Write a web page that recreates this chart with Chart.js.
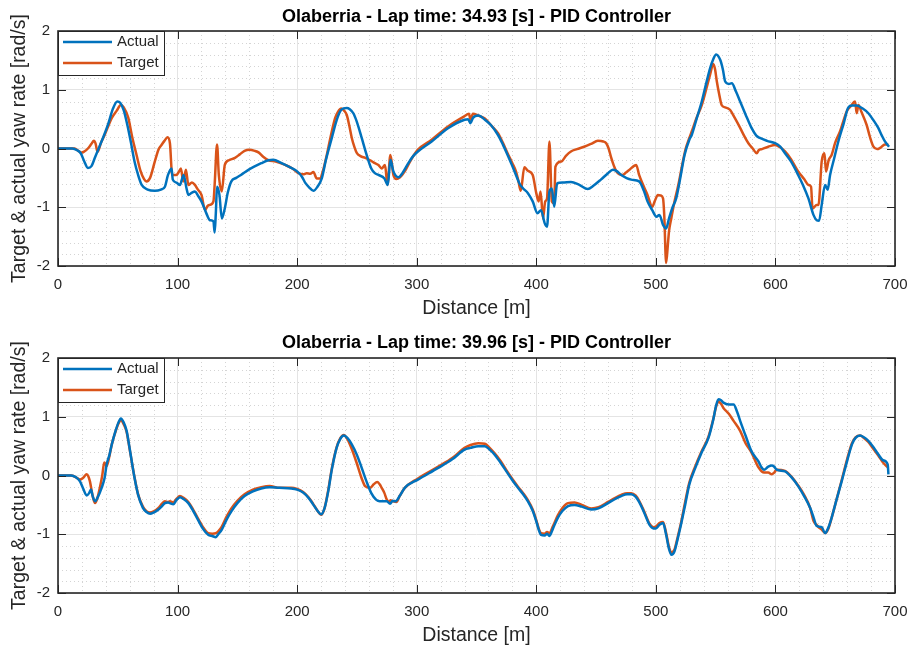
<!DOCTYPE html>
<html lang="en">
<head>
    <meta charset="UTF-8">
    <title>Olaberria - Yaw rate tracking</title>
    <script src="https://cdn.jsdelivr.net/npm/chart.js"></script>
    <style>
        body {
            margin: 0;
            background-color: #ffffff;
            width: 909px;
            height: 648px;
            overflow: hidden;
        }

        .panel {
            position: absolute;
            left: 0;
            width: 909px;
            height: 324px;
        }
    </style>
</head>
<body>
    <div class="panel" style="top: 0;"><canvas id="lapFast" width="909" height="324"></canvas></div>
    <div class="panel" style="top: 324px;"><canvas id="lapSlow" width="909" height="324"></canvas></div>

    <script>
        // axis ticks
        const distTicks = [0, 100, 200, 300, 400, 500, 600, 700];
        const yawTicks = [-2, -1, 0, 1, 2];

        // Lap 1 (34.93 s) - actual yaw rate
        const distActual1 = [0, 12, 16, 19, 22, 25, 28, 31, 34, 38, 42, 46, 49.6, 52, 55, 58, 61, 64, 67, 70, 75, 81, 86, 89.4, 92, 95, 96, 99, 102, 104, 105, 107.5, 109, 112, 114.5, 117, 120, 124, 127, 130, 131, 132, 133, 135, 137, 139.5, 142, 145, 149, 153, 158, 164, 170, 176, 180, 187, 195, 200, 204, 207, 210, 213.6, 217, 220.6, 224, 229, 233, 237, 241.5, 244, 247, 250, 254, 258, 262, 265, 268, 273, 275.8, 278, 280.5, 284.7, 288, 293, 297, 301, 312.5, 326.5, 340, 343, 345, 347, 351.5, 357, 362, 368, 372, 376, 380, 383, 386, 389, 393, 397, 401, 404, 407, 409, 411, 413, 415, 417.5, 422, 429, 436, 443, 448, 454, 460, 464, 467, 471, 479.4, 486, 490, 493, 497, 500.5, 503, 506, 508.6, 511, 514, 517, 520, 524, 528, 530, 534, 538.4, 542, 545.4, 548, 550.4, 553.8, 556, 558, 561, 563.5, 567, 570.5, 575, 580, 584, 587, 593, 599.7, 604, 608, 613, 619, 623, 627.6, 631.8, 634.5, 636.5, 638.7, 641.5, 643.7, 645.7, 649, 652.6, 657, 661, 664, 668, 673, 677.7, 682, 686, 689, 691.6, 695];
        const yawActual1 = [0, 0, -0.03, -0.08, -0.22, -0.33, -0.30, -0.15, 0.0, 0.2, 0.42, 0.68, 0.80, 0.78, 0.65, 0.40, 0.10, -0.22, -0.45, -0.62, -0.70, -0.72, -0.70, -0.65, -0.45, -0.34, -0.53, -0.58, -0.62, -0.50, -0.45, -0.68, -0.79, -0.75, -0.73, -0.80, -0.90, -1.10, -1.22, -1.24, -1.43, -1.10, -0.65, -0.79, -1.19, -1.02, -0.75, -0.56, -0.50, -0.45, -0.38, -0.31, -0.25, -0.20, -0.19, -0.25, -0.33, -0.39, -0.48, -0.59, -0.66, -0.72, -0.65, -0.51, -0.20, 0.18, 0.48, 0.66, 0.69, 0.67, 0.60, 0.45, 0.18, -0.10, -0.34, -0.42, -0.45, -0.51, -0.62, -0.19, -0.39, -0.49, -0.42, -0.25, -0.13, -0.05, 0.12, 0.35, 0.49, 0.50, 0.43, 0.52, 0.56, 0.49, 0.40, 0.23, 0.07, -0.11, -0.30, -0.45, -0.60, -0.68, -0.76, -0.90, -1.10, -1.05, -1.27, -1.33, -0.73, -0.68, -0.99, -0.59, -0.58, -0.57, -0.62, -0.69, -0.63, -0.53, -0.42, -0.36, -0.38, -0.45, -0.53, -0.56, -0.72, -0.90, -1.05, -1.16, -1.13, -1.30, -1.36, -1.19, -1.00, -0.85, -0.55, -0.11, 0.15, 0.23, 0.50, 0.80, 1.10, 1.37, 1.52, 1.60, 1.51, 1.35, 1.14, 1.10, 1.11, 0.97, 0.80, 0.58, 0.35, 0.22, 0.18, 0.13, 0.09, 0.03, -0.08, -0.22, -0.45, -0.62, -0.85, -1.13, -1.22, -1.23, -0.96, -0.62, -0.70, -0.45, -0.18, 0.12, 0.42, 0.70, 0.73, 0.73, 0.68, 0.60, 0.48, 0.35, 0.22, 0.12, 0.03];

        // Lap 1 (34.93 s) - target yaw rate
        const distTarget1 = [0, 14, 17, 19.8, 22, 25, 28, 30, 31.5, 33, 36, 39, 42, 45, 49, 52.6, 55, 58.8, 62, 65.7, 69, 72, 74, 77, 81, 84, 86.6, 89, 91.6, 93.6, 95.5, 99, 101, 102.8, 104.7, 107, 109, 112, 114.5, 117, 120, 123, 125, 127, 130, 131, 133, 134.5, 137, 139.5, 143, 148, 152, 156, 160, 164.6, 168, 171.6, 176, 182, 190, 196, 201, 205, 208, 211, 213.6, 216.4, 219, 222, 224.8, 228, 231.8, 234, 237, 239.5, 241.5, 243.5, 245.7, 248, 250, 253, 257, 261, 265, 268, 270.7, 273.5, 275.5, 278, 280.5, 283, 286, 290, 295, 301, 312.5, 326.5, 340, 343.7, 345, 347, 351.5, 357, 362, 368, 372, 376, 380, 383, 385, 387, 390, 393, 397, 400, 402, 403.6, 405.6, 407.5, 409, 411, 413, 415, 416, 421, 425, 429, 434, 440, 446, 451.5, 456, 458.5, 460.5, 462.7, 465, 467, 472, 475, 478, 483.6, 486, 490, 493, 497, 499, 501.7, 504, 506, 507, 508.6, 510, 511, 513, 515, 519, 522.6, 525, 528, 530, 534, 538.4, 542, 545.4, 548, 549.5, 551, 553, 555, 558, 562, 566, 570.5, 574, 577.4, 581, 584.4, 586, 588.6, 594, 599.7, 604, 608, 613, 619, 624, 627.6, 629.8, 631, 634.5, 636, 638.7, 641, 642.3, 644.5, 647, 650, 654, 657, 659.6, 663, 666.6, 668, 669.4, 672, 676.3, 679, 682, 685, 687.5, 691.6, 694.4];
        const yawTarget1 = [0, 0, -0.04, -0.07, -0.05, 0.0, 0.08, 0.13, 0.08, -0.06, 0.10, 0.23, 0.38, 0.52, 0.64, 0.74, 0.70, 0.52, 0.20, -0.11, -0.38, -0.52, -0.56, -0.50, -0.22, -0.02, 0.06, 0.13, 0.19, 0.09, -0.45, -0.45, -0.40, -0.34, -0.56, -0.36, -0.62, -0.58, -0.62, -0.70, -0.79, -1.05, -0.98, -0.96, -0.90, -0.62, 0.07, -0.45, -0.73, -0.28, -0.20, -0.16, -0.10, -0.04, -0.02, -0.04, -0.07, -0.14, -0.20, -0.22, -0.28, -0.34, -0.42, -0.44, -0.42, -0.43, -0.40, -0.51, -0.51, -0.35, -0.11, 0.20, 0.52, 0.62, 0.68, 0.64, 0.57, 0.40, 0.18, 0.02, -0.08, -0.13, -0.16, -0.20, -0.25, -0.28, -0.34, -0.28, -0.62, -0.11, -0.45, -0.52, -0.49, -0.39, -0.20, -0.02, 0.15, 0.38, 0.55, 0.59, 0.49, 0.59, 0.56, 0.51, 0.40, 0.26, 0.10, -0.08, -0.25, -0.39, -0.55, -0.72, -0.32, -0.38, -0.45, -0.76, -0.90, -0.73, -1.19, -0.90, -0.85, 0.12, -0.90, -0.93, -0.31, -0.22, -0.12, -0.05, -0.01, 0.03, 0.08, 0.13, 0.12, 0.09, 0.0, -0.16, -0.30, -0.39, -0.45, -0.41, -0.36, -0.28, -0.45, -0.65, -0.79, -0.99, -0.90, -0.79, -0.80, -0.85, -1.13, -1.95, -1.65, -1.41, -1.18, -0.96, -0.60, -0.22, 0.0, 0.18, 0.29, 0.52, 0.74, 1.0, 1.26, 1.44, 1.35, 1.14, 0.92, 0.74, 0.70, 0.66, 0.52, 0.35, 0.21, 0.09, 0.0, -0.08, -0.03, -0.01, 0.03, 0.06, 0.02, -0.05, -0.18, -0.39, -0.52, -0.62, -0.65, -1.02, -0.96, -0.96, -0.22, -0.08, -0.39, -0.20, -0.11, 0.10, 0.29, 0.48, 0.63, 0.72, 0.80, 0.60, 0.74, 0.62, 0.40, 0.20, 0.03, -0.01, 0.01, 0.07, 0.07];

        // Lap 2 (39.96 s) - actual yaw rate
        const distActual2 = [0, 11, 15, 18.4, 21, 24, 26, 27.6, 29, 31, 33, 36.5, 39, 40.7, 43, 45, 48, 50.5, 52.6, 55, 57.4, 60, 64, 67, 71, 74, 77, 80, 84, 87, 89.4, 92, 93.6, 96.4, 99, 102, 105, 109, 113, 117, 121, 125.6, 129, 132, 134, 137, 141, 145, 150, 156, 163, 170, 177, 185, 195, 200, 205, 209.5, 213, 217, 220, 223, 226, 229, 233, 236, 239, 242, 245.7, 250, 254, 258, 262, 266, 269, 275, 277.7, 280, 282, 286, 290, 301, 318, 330, 340, 345, 351.5, 357, 361, 365, 370, 375, 380, 384.7, 389, 393, 397, 400, 402, 404, 407, 409, 411, 414, 418, 422, 426.5, 432, 438, 446, 452, 460, 466, 471, 476, 479.4, 483, 486, 490, 494.7, 498, 500, 503, 506, 508.6, 511, 513, 515.6, 518, 521, 524.5, 528, 533, 538, 544, 548, 550.5, 552.4, 554.5, 556.5, 561, 565, 568, 570.5, 575, 580, 585.8, 588, 590.5, 594, 597, 599, 601, 608, 613, 619, 624, 629, 632, 634.5, 638.7, 641.5, 644, 647, 651, 655.4, 660, 664, 667, 670.8, 674, 677.7, 682, 686, 690, 693.9, 694.5];
        const yawActual2 = [0, 0, -0.03, -0.10, -0.22, -0.34, -0.30, -0.24, -0.35, -0.44, -0.38, -0.21, -0.04, 0.19, 0.35, 0.53, 0.75, 0.90, 0.97, 0.90, 0.76, 0.45, -0.04, -0.33, -0.55, -0.62, -0.65, -0.63, -0.58, -0.52, -0.47, -0.46, -0.47, -0.49, -0.42, -0.37, -0.40, -0.47, -0.60, -0.75, -0.90, -1.01, -1.03, -1.05, -1.00, -0.92, -0.75, -0.61, -0.47, -0.35, -0.27, -0.22, -0.20, -0.21, -0.22, -0.24, -0.29, -0.38, -0.48, -0.60, -0.66, -0.55, -0.27, 0.10, 0.47, 0.62, 0.68, 0.64, 0.53, 0.35, 0.13, -0.10, -0.30, -0.41, -0.44, -0.44, -0.48, -0.43, -0.44, -0.34, -0.21, -0.07, 0.13, 0.28, 0.44, 0.47, 0.50, 0.50, 0.44, 0.36, 0.22, 0.07, -0.08, -0.21, -0.32, -0.44, -0.60, -0.78, -0.92, -1.01, -1.02, -0.99, -1.03, -0.90, -0.72, -0.60, -0.52, -0.50, -0.53, -0.58, -0.56, -0.47, -0.40, -0.35, -0.32, -0.32, -0.36, -0.45, -0.62, -0.84, -0.90, -0.90, -0.84, -0.81, -1.01, -1.25, -1.35, -1.29, -1.10, -0.84, -0.50, -0.15, 0.13, 0.38, 0.64, 0.95, 1.20, 1.30, 1.28, 1.24, 1.21, 1.21, 1.08, 0.93, 0.68, 0.41, 0.24, 0.15, 0.10, 0.15, 0.17, 0.15, 0.10, 0.07, -0.02, -0.18, -0.35, -0.55, -0.72, -0.86, -0.88, -0.98, -0.90, -0.72, -0.42, -0.10, 0.25, 0.53, 0.64, 0.68, 0.65, 0.59, 0.48, 0.36, 0.26, 0.19, 0.02];

        // Lap 2 (39.96 s) - target yaw rate
        const distTarget2 = [0, 11, 15, 18.4, 21, 24, 25.5, 26.7, 29, 31, 33, 35, 37, 38.7, 40.7, 43, 45, 48, 50.5, 52.6, 55, 57.4, 60, 64, 67, 71, 74, 77, 80, 84, 87, 89.4, 92, 93.6, 96.4, 99, 102, 105, 109, 113, 117, 121, 125.6, 129, 132, 134, 137, 141, 145, 150, 156, 163, 170, 177, 185, 195, 200, 205, 209.5, 213, 217, 220, 223, 226, 229, 233, 236, 239, 242, 245.7, 250, 254, 256.8, 261, 264, 267, 269, 270.7, 273, 275, 277, 278, 280.5, 283, 286, 290, 301, 318, 330, 340, 345, 351.5, 357, 361, 365, 370, 375, 380, 384.7, 389, 393, 397, 400, 402, 404, 407, 409, 411, 414, 418, 422, 426.5, 432, 438, 446, 452, 460, 466, 471, 476, 479.4, 483, 486, 490, 494.7, 498, 500, 503, 506, 508.6, 511, 513, 515.6, 518, 521, 524.5, 528, 533, 538, 544, 548, 550.5, 552.4, 554.5, 556.5, 561, 565, 570.5, 575, 580, 585.8, 590.5, 594, 597, 599, 601, 608, 613, 619, 624, 629, 632, 634.5, 636, 638.7, 641.5, 644, 647, 651, 655.4, 660, 664, 667, 670.8, 674, 677.7, 682, 686, 690, 693.9];
        const yawTarget2 = [0, 0, -0.03, -0.07, -0.04, 0.02, -0.02, -0.10, -0.35, -0.47, -0.38, -0.21, 0.0, 0.22, 0.16, 0.33, 0.53, 0.74, 0.88, 0.94, 0.87, 0.74, 0.44, -0.03, -0.32, -0.53, -0.61, -0.63, -0.61, -0.55, -0.48, -0.44, -0.45, -0.44, -0.46, -0.40, -0.35, -0.38, -0.45, -0.58, -0.73, -0.87, -0.98, -0.99, -0.98, -0.95, -0.87, -0.70, -0.56, -0.43, -0.32, -0.24, -0.20, -0.18, -0.21, -0.21, -0.23, -0.28, -0.37, -0.47, -0.60, -0.67, -0.55, -0.25, 0.12, 0.48, 0.63, 0.69, 0.62, 0.45, 0.20, -0.05, -0.18, -0.21, -0.15, -0.11, -0.15, -0.21, -0.30, -0.41, -0.45, -0.42, -0.44, -0.45, -0.34, -0.21, -0.05, 0.15, 0.30, 0.47, 0.52, 0.55, 0.54, 0.47, 0.38, 0.25, 0.09, -0.06, -0.19, -0.30, -0.42, -0.58, -0.76, -0.90, -0.98, -0.99, -0.96, -0.98, -0.86, -0.68, -0.55, -0.47, -0.46, -0.50, -0.56, -0.54, -0.45, -0.38, -0.33, -0.30, -0.30, -0.34, -0.43, -0.60, -0.82, -0.88, -0.87, -0.81, -0.79, -0.98, -1.22, -1.31, -1.26, -1.07, -0.81, -0.45, -0.12, 0.16, 0.40, 0.66, 0.96, 1.18, 1.26, 1.22, 1.15, 1.05, 0.93, 0.76, 0.55, 0.39, 0.14, 0.05, 0.05, 0.02, 0.05, 0.10, 0.08, -0.01, -0.17, -0.33, -0.55, -0.78, -0.84, -0.88, -0.92, -0.98, -0.92, -0.72, -0.42, -0.08, 0.28, 0.55, 0.65, 0.68, 0.64, 0.57, 0.45, 0.34, 0.22, 0.14];

        const blue = '#0072BD';
        const orange = '#D95319';
        const axisColor = '#262626';

        function toPoints(xs, ys) {
            return xs.map((x, i) => ({ x: x, y: ys[i] }));
        }

        // MATLAB-like box, inner ticks, dotted minor grid and legend
        const matlabAxes = {
            id: 'matlabAxes',
            beforeDatasetsDraw(chart) {
                const { ctx, chartArea: a, scales } = chart;
                ctx.save();
                ctx.strokeStyle = '#d4d4d4';
                ctx.lineWidth = 1;
                ctx.setLineDash([1, 3]);
                for (let v = 0; v <= 700; v += 20) {
                    if (v % 100 === 0) continue;
                    const px = Math.round(scales.x.getPixelForValue(v)) + 0.5;
                    ctx.beginPath(); ctx.moveTo(px, a.top); ctx.lineTo(px, a.bottom); ctx.stroke();
                }
                for (let v = -2; v <= 2.001; v += 0.2) {
                    const r = Math.round(v * 10) / 10;
                    if (Math.abs(r - Math.round(r)) < 1e-6) continue;
                    const py = Math.round(scales.y.getPixelForValue(r)) + 0.5;
                    ctx.beginPath(); ctx.moveTo(a.left, py); ctx.lineTo(a.right, py); ctx.stroke();
                }
                ctx.restore();
            },
            afterDraw(chart) {
                const { ctx, chartArea: a, scales } = chart;
                ctx.save();
                ctx.strokeStyle = axisColor;
                ctx.lineWidth = 1;
                const tl = 8;
                distTicks.forEach(v => {
                    const px = Math.round(scales.x.getPixelForValue(v)) + 0.5;
                    ctx.beginPath();
                    ctx.moveTo(px, a.bottom); ctx.lineTo(px, a.bottom - tl);
                    ctx.moveTo(px, a.top); ctx.lineTo(px, a.top + tl);
                    ctx.stroke();
                });
                yawTicks.forEach(v => {
                    const py = Math.round(scales.y.getPixelForValue(v)) + 0.5;
                    ctx.beginPath();
                    ctx.moveTo(a.left, py); ctx.lineTo(a.left + tl, py);
                    ctx.moveTo(a.right, py); ctx.lineTo(a.right - tl, py);
                    ctx.stroke();
                });
                ctx.lineWidth = 1.6;
                ctx.strokeRect(a.left, a.top, a.right - a.left, a.bottom - a.top);

                // legend box
                const lx = a.left + 0.5, ly = a.top + 0.5;
                ctx.fillStyle = '#ffffff';
                ctx.fillRect(lx, ly, 106, 44);
                ctx.lineWidth = 1;
                ctx.strokeRect(lx, ly, 106, 44);
                const items = [['Actual', blue, 11], ['Target', orange, 32]];
                ctx.font = '15px "Liberation Sans", Arial, sans-serif';
                ctx.textBaseline = 'middle';
                items.forEach(([label, color, dy]) => {
                    ctx.strokeStyle = color;
                    ctx.lineWidth = 2.5;
                    ctx.beginPath();
                    ctx.moveTo(a.left + 5, a.top + dy);
                    ctx.lineTo(a.left + 54, a.top + dy);
                    ctx.stroke();
                    ctx.fillStyle = axisColor;
                    ctx.fillText(label, a.left + 59, a.top + dy);
                });
                ctx.restore();
            }
        };

        function makeChart(canvasId, titleText, actual, target, titlePad, xTitlePad, xAxisHeight) {
            const ctx = document.getElementById(canvasId).getContext('2d');
            return new Chart(ctx, {
                type: 'line',
                data: {
                    datasets: [{
                        label: 'Actual',
                        data: actual,
                        borderColor: blue,
                        borderWidth: 2.5,
                        pointRadius: 0,
                        cubicInterpolationMode: 'monotone'
                    }, {
                        label: 'Target',
                        data: target,
                        borderColor: orange,
                        borderWidth: 2.5,
                        pointRadius: 0,
                        cubicInterpolationMode: 'monotone'
                    }]
                },
                options: {
                    responsive: false,
                    animation: false,
                    layout: { padding: { top: 0, right: 14, left: 0, bottom: 0 } },
                    plugins: {
                        legend: { display: false },
                        tooltip: { enabled: false },
                        title: {
                            display: true,
                            fullSize: false,
                            text: titleText,
                            color: '#000000',
                            font: { family: '"Liberation Sans", Arial, sans-serif', size: 18, weight: 'bold' },
                            padding: titlePad
                        }
                    },
                    scales: {
                        x: {
                            type: 'linear',
                            min: 0,
                            max: 700,
                            afterBuildTicks: scale => { scale.ticks = distTicks.map(v => ({ value: v })); },
                            afterFit: scale => {
                                scale.height = xAxisHeight;
                                scale.paddingLeft = 0;
                                scale.paddingRight = 0;
                            },
                            ticks: {
                                color: axisColor,
                                padding: 10,
                                maxRotation: 0,
                                font: { family: '"Liberation Sans", Arial, sans-serif', size: 15 }
                            },
                            grid: { color: '#e4e4e4', drawTicks: false },
                            border: { display: false },
                            title: {
                                display: true,
                                text: 'Distance [m]',
                                color: axisColor,
                                font: { family: '"Liberation Sans", Arial, sans-serif', size: 19.5 },
                                padding: { top: 0, bottom: xTitlePad }
                            }
                        },
                        y: {
                            min: -2,
                            max: 2,
                            afterBuildTicks: scale => { scale.ticks = yawTicks.map(v => ({ value: v })); },
                            afterFit: scale => {
                                scale.width = 58;
                                scale.paddingTop = 0;
                                scale.paddingBottom = 0;
                            },
                            ticks: {
                                color: axisColor,
                                padding: 8,
                                font: { family: '"Liberation Sans", Arial, sans-serif', size: 15 }
                            },
                            grid: { color: '#e4e4e4', drawTicks: false },
                            border: { display: false },
                            title: {
                                display: true,
                                text: 'Target & actual yaw rate [rad/s]',
                                color: axisColor,
                                font: { family: '"Liberation Sans", Arial, sans-serif', size: 19.5 },
                                padding: { top: 8, bottom: 0 }
                            }
                        }
                    }
                },
                plugins: [matlabAxes]
            });
        }

        makeChart('lapFast', 'Olaberria - Lap time: 34.93 [s] - PID Controller',
            toPoints(distActual1, yawActual1), toPoints(distTarget1, yawTarget1),
            { top: 6, bottom: 3.4 }, 4, 58);

        makeChart('lapSlow', 'Olaberria - Lap time: 39.96 [s] - PID Controller',
            toPoints(distActual2, yawActual2), toPoints(distTarget2, yawTarget2),
            { top: 8, bottom: 4.4 }, 1, 55);
    </script>
</body>
</html>
